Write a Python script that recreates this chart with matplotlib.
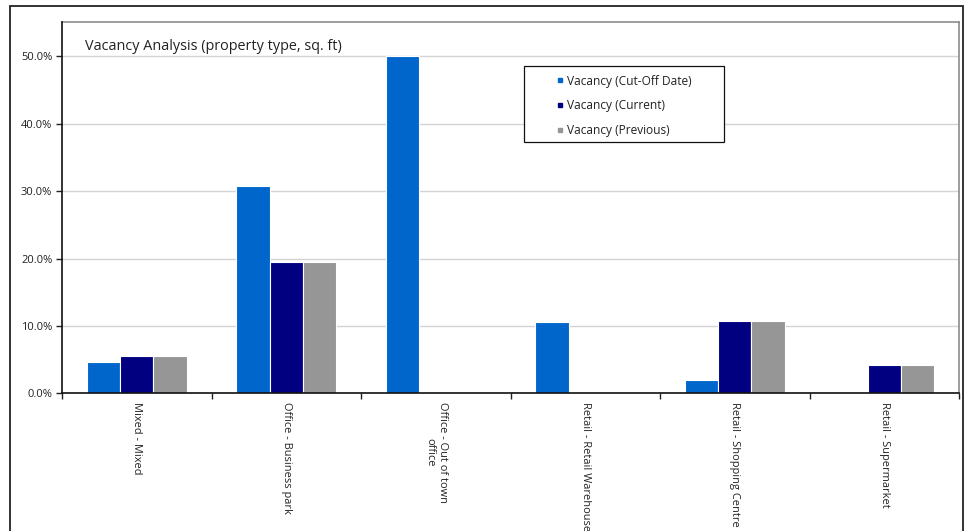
import matplotlib
matplotlib.use("Agg")
import matplotlib.pyplot as plt
from matplotlib.patches import Rectangle
from matplotlib.lines import Line2D
from matplotlib.ticker import FixedLocator, FuncFormatter, NullFormatter

plt.rcParams['font.family'] = ['Open Sans', 'DejaVu Sans']

categories = ["Mixed - Mixed", "Office - Business park", "Office - Out of town\noffice",
              "Retail - Retail Warehouse", "Retail - Shopping Centre", "Retail - Supermarket"]
series_names = ["Vacancy (Cut-Off Date)", "Vacancy (Current)", "Vacancy (Previous)"]
cutoff = [4.6, 30.7, 50.0, 10.6, 2.0, 0.0]
current = [5.6, 19.5, 0.0, 0.0, 10.7, 4.2]
previous = [5.6, 19.5, 0.0, 0.0, 10.7, 4.2]
colors = ["#0066CC", "#000080", "#969696"]
title = "Vacancy Analysis (property type, sq. ft)"

W, H = 967, 531
fig = plt.figure(figsize=(W / 100, H / 100), dpi=100)

def fx(px):
    return px / W

def fy(py):
    return 1 - py / H

ax_left, ax_right, ax_top, ax_bottom = 62, 959, 22, 393.3
ax = fig.add_axes([fx(ax_left), fy(ax_bottom), fx(ax_right - ax_left), (ax_bottom - ax_top) / H])

n = len(categories)
bw = 0.2227
offsets = [-bw, 0.0, bw]
for vals, col, off, name in zip([cutoff, current, previous], colors, offsets, series_names):
    xs = [i + 0.5 + off for i in range(n)]
    ax.bar(xs, vals, width=bw, color=col, edgecolor="white", linewidth=0.8, label=name, zorder=2)

ax.set_xlim(0, n)
ax.set_ylim(0, 55.1)

# gridlines
ax.yaxis.set_major_locator(FixedLocator([0, 10, 20, 30, 40, 50]))
ax.yaxis.set_major_formatter(FuncFormatter(lambda v, p: f"{v:.1f}%"))
ax.grid(axis="y", color="#d4d4d4", linewidth=1.0, zorder=0)
ax.set_axisbelow(True)

# category boundary ticks and centered labels
ax.xaxis.set_major_locator(FixedLocator(list(range(n + 1))))
ax.xaxis.set_major_formatter(NullFormatter())
ax.xaxis.set_minor_locator(FixedLocator([i + 0.5 for i in range(n)]))
ax.set_xticklabels(categories, minor=True, rotation=270, ha="center", va="top",
                   multialignment="center", fontsize=7.9, color="#222222")
ax.tick_params(axis="x", which="major", direction="out", length=4, width=1, color="#222222")
ax.tick_params(axis="x", which="minor", length=0, pad=6)
ax.tick_params(axis="y", direction="out", length=4, width=1, color="#222222",
               labelsize=8.0, labelcolor="#222222", pad=3)

for s in ["left", "bottom"]:
    ax.spines[s].set_color("#111111")
    ax.spines[s].set_linewidth(1.2)
    ax.spines[s].set_zorder(4)
for s in ["top", "right"]:
    ax.spines[s].set_color("#8c8c8c")
    ax.spines[s].set_linewidth(1.2)

# chart title inside the plot area
fig.text(fx(85), fy(46.5), title, fontsize=10.4, color="#222222", ha="left", va="center")

# legend box and entries
leg_box = Rectangle((fx(524), fy(142.3)), fx(724 - 524), (142.3 - 65.7) / H,
                    transform=fig.transFigure, facecolor="white", edgecolor="#111111",
                    linewidth=0.9, zorder=5)
fig.patches.append(leg_box)
handles = [Line2D([], [], linestyle="none", marker="s", markersize=3.2,
                  markerfacecolor=c, markeredgecolor=c) for c in colors]
leg = fig.legend(handles, series_names, loc="upper left",
                 bbox_to_anchor=(fx(557), fy(74.5)), bbox_transform=fig.transFigure,
                 frameon=False, fontsize=8.6, handlelength=0.5, handletextpad=0.3,
                 labelspacing=0.98, borderpad=0, borderaxespad=0)
leg.set_zorder(6)
for t in leg.get_texts():
    t.set_color("#222222")

# outer chart frame
frame = Rectangle((fx(10), fy(540)), fx(962.7 - 10), (540 - 6) / H,
                  transform=fig.transFigure, facecolor="none", edgecolor="#222222",
                  linewidth=1.3, zorder=10, clip_on=False)
fig.patches.append(frame)

fig.savefig("out.png", dpi=100)
